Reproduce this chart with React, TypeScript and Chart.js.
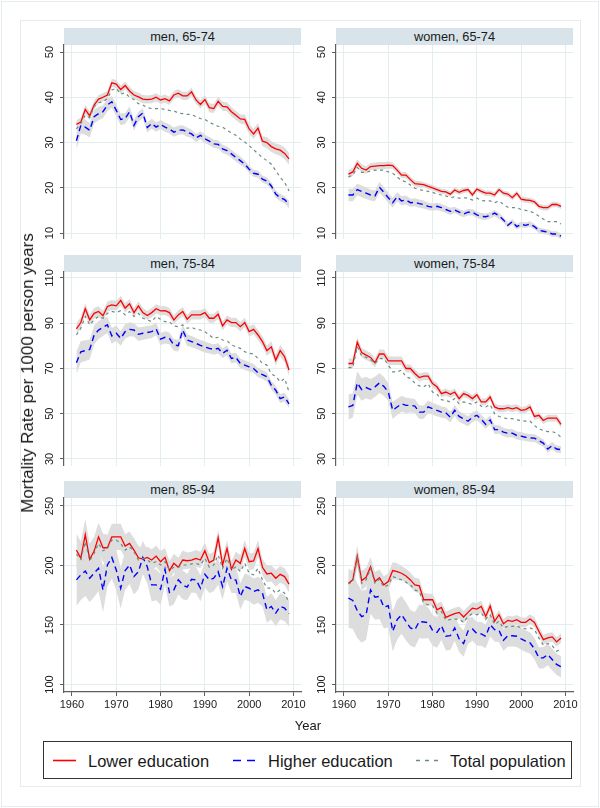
import React, { useEffect, useRef } from "react";
import { Chart, registerables } from "chart.js";

Chart.register(...registerables);

// ---------- data ----------
const years = [
  1961, 1962, 1963, 1964, 1965, 1966, 1967, 1968, 1969, 1970,
  1971, 1972, 1973, 1974, 1975, 1976, 1977, 1978, 1979, 1980,
  1981, 1982, 1983, 1984, 1985, 1986, 1987, 1988, 1989, 1990,
  1991, 1992, 1993, 1994, 1995, 1996, 1997, 1998, 1999, 2000,
  2001, 2002, 2003, 2004, 2005, 2006, 2007, 2008, 2009,
];
const xTicks = [1960, 1970, 1980, 1990, 2000, 2010];
const yTicks6574 = [10, 20, 30, 40, 50];
const yTicks7584 = [30, 50, 70, 90, 110];
const yTicks8594 = [100, 150, 200, 250];

const panelTitles = ["men, 65-74", "women, 65-74", "men, 75-84", "women, 75-84", "men, 85-94", "women, 85-94"];
const legendLabels = ["Lower education", "Higher education", "Total population"];
const yAxisTitle = "Mortality Rate per 1000 person years";
const xAxisTitle = "Year";

// men 65-74
const men6574Lower = [
  34.0, 34.5, 37.3, 35.9, 38.3, 39.6, 40.0, 40.5, 43.2, 42.9,
  41.7, 42.6, 41.4, 40.5, 40.1, 39.6, 39.5, 39.6, 40.0, 39.4,
  39.7, 39.2, 40.5, 40.9, 40.3, 40.3, 41.2, 39.4, 38.4, 39.5,
  37.7, 37.5, 39.1, 38.0, 37.9, 36.8, 36.0, 35.2, 35.1, 33.0,
  31.9, 33.2, 30.3, 30.0, 29.1, 28.6, 28.3, 27.6, 26.4,
];
const men6574Higher = [
  30.4, 33.8, 33.4, 32.7, 35.7, 36.4, 36.8, 38.3, 39.0, 37.1,
  35.1, 35.3, 36.8, 33.8, 35.7, 36.5, 33.3, 34.2, 33.4, 34.0,
  33.4, 33.0, 32.3, 32.7, 32.8, 32.3, 31.9, 31.0, 31.6, 30.8,
  30.3, 29.7, 29.6, 28.6, 28.2, 27.5, 26.7, 26.0, 25.2, 24.1,
  23.2, 23.0, 21.9, 21.5, 20.4, 18.6, 17.8, 17.4, 16.3,
];
const men6574Total = [
  33.0, 34.2, 36.0, 35.5, 38.0, 38.8, 39.0, 39.7, 41.6, 42.0,
  40.7, 41.0, 40.0, 39.5, 38.6, 38.3, 37.7, 37.5, 37.5, 37.5,
  37.3, 37.1, 37.0, 36.5, 36.4, 36.2, 36.2, 35.7, 35.3, 35.1,
  34.5, 34.0, 33.6, 33.4, 32.7, 32.1, 31.6, 30.8, 30.1, 29.3,
  28.4, 27.5, 26.7, 26.0, 25.2, 23.8, 22.3, 21.2, 19.3,
];
const men6574LowerCI = [
  1.0, 1.0, 1.0, 1.0, 1.0, 0.9, 0.9, 0.9, 0.9, 0.9,
  0.9, 0.9, 0.9, 0.9, 0.9, 0.9, 0.9, 0.9, 0.9, 0.9,
  0.9, 0.9, 0.9, 0.9, 0.9, 0.9, 0.9, 0.9, 0.9, 1.0,
  1.0, 1.0, 1.0, 1.0, 1.0, 1.0, 1.0, 1.0, 1.1, 1.1,
  1.1, 1.1, 1.1, 1.2, 1.2, 1.2, 1.2, 1.3, 1.3,
];
const men6574HigherCI = [
  2.0, 1.8, 1.7, 1.6, 1.5, 1.5, 1.4, 1.4, 1.3, 1.3,
  1.3, 1.2, 1.2, 1.2, 1.1, 1.1, 1.1, 1.1, 1.0, 1.0,
  1.0, 1.0, 1.0, 1.0, 1.0, 1.0, 0.9, 0.9, 0.9, 0.9,
  0.9, 0.9, 0.9, 0.9, 0.9, 0.9, 0.9, 0.9, 0.8, 0.8,
  0.8, 0.8, 0.8, 0.8, 0.8, 0.8, 0.8, 0.8, 0.8,
];

// women 65-74
const women6574Lower = [
  23.0, 23.5, 25.4, 24.3, 23.9, 24.7, 24.8, 24.9, 24.9, 25.0,
  24.9, 23.9, 22.8, 22.8, 21.8, 20.9, 20.8, 20.7, 20.3, 20.0,
  19.6, 19.2, 19.1, 18.6, 19.5, 19.0, 19.4, 19.6, 18.4, 19.7,
  19.2, 18.8, 18.8, 18.4, 19.6, 18.8, 18.6, 17.8, 18.8, 17.5,
  17.3, 17.2, 16.9, 15.9, 15.6, 15.6, 16.3, 16.3, 15.9,
];
const women6574Higher = [
  18.4, 18.4, 19.6, 19.2, 18.8, 18.4, 18.2, 20.1, 19.0, 17.8,
  16.7, 18.0, 17.1, 17.3, 16.7, 16.8, 16.5, 16.3, 15.9, 15.7,
  15.9, 15.6, 15.2, 14.8, 15.1, 14.6, 14.2, 14.6, 14.6, 14.0,
  13.7, 13.6, 13.9, 14.4, 13.8, 12.9, 11.7, 12.5, 11.4, 11.9,
  11.7, 12.0, 11.4, 10.6, 10.4, 10.2, 9.8, 9.8, 9.3,
];
const women6574Total = [
  22.4, 22.8, 24.5, 23.4, 23.4, 23.7, 23.9, 23.9, 23.9, 23.5,
  23.2, 22.4, 21.6, 21.3, 20.6, 19.9, 19.6, 19.4, 19.2, 19.0,
  18.6, 18.4, 18.2, 17.8, 18.0, 17.7, 17.8, 17.7, 17.3, 17.7,
  17.2, 17.1, 17.1, 16.7, 17.1, 16.3, 15.7, 15.6, 15.6, 15.2,
  15.0, 14.8, 14.4, 13.7, 13.1, 12.5, 12.5, 12.5, 12.0,
];
const women6574LowerCI = [
  0.9, 0.9, 0.9, 0.9, 0.8, 0.8, 0.8, 0.8, 0.8, 0.8,
  0.7, 0.7, 0.7, 0.7, 0.7, 0.7, 0.7, 0.6, 0.6, 0.6,
  0.6, 0.6, 0.6, 0.6, 0.6, 0.6, 0.6, 0.6, 0.6, 0.6,
  0.6, 0.6, 0.6, 0.6, 0.6, 0.6, 0.6, 0.6, 0.6, 0.6,
  0.6, 0.6, 0.6, 0.6, 0.6, 0.6, 0.6, 0.6, 0.6,
];
const women6574HigherCI = [
  1.4, 1.4, 1.3, 1.3, 1.3, 1.2, 1.2, 1.2, 1.1, 1.1,
  1.1, 1.0, 1.0, 1.0, 0.9, 0.9, 0.9, 0.9, 0.8, 0.8,
  0.8, 0.8, 0.8, 0.8, 0.7, 0.7, 0.7, 0.7, 0.7, 0.7,
  0.7, 0.7, 0.7, 0.7, 0.7, 0.6, 0.6, 0.6, 0.6, 0.6,
  0.6, 0.6, 0.6, 0.6, 0.6, 0.6, 0.6, 0.6, 0.6,
];

// men 75-84
const men7584Lower = [
  87.5, 90.3, 96.4, 91.5, 94.4, 95.2, 93.3, 97.4, 98.1, 97.7,
  100.1, 96.7, 98.6, 94.7, 97.7, 94.7, 93.4, 94.7, 96.4, 95.5,
  95.6, 94.7, 91.5, 93.7, 95.2, 91.8, 93.7, 93.7, 93.7, 94.7,
  92.2, 92.2, 94.0, 88.8, 91.5, 90.3, 90.3, 88.5, 90.3, 86.3,
  87.3, 84.8, 81.9, 77.9, 79.6, 73.7, 77.9, 75.2, 69.3,
];
const men7584Higher = [
  72.5, 77.4, 77.9, 78.4, 84.8, 87.0, 88.2, 89.3, 84.4, 85.6,
  83.3, 86.3, 87.3, 87.0, 85.1, 85.6, 85.9, 86.3, 87.5, 83.0,
  83.8, 83.3, 80.4, 80.1, 87.0, 82.6, 81.9, 81.1, 80.2, 79.5,
  78.9, 78.4, 78.9, 76.7, 78.1, 74.4, 74.9, 72.2, 71.5, 70.7,
  70.0, 68.1, 67.3, 66.3, 62.6, 60.4, 56.7, 57.4, 54.4,
];
const men7584Total = [
  84.8, 87.8, 93.0, 89.3, 91.5, 93.0, 92.2, 94.4, 95.2, 94.7,
  95.5, 93.7, 95.2, 93.0, 94.4, 92.2, 91.5, 90.7, 93.0, 91.8,
  90.7, 90.7, 88.8, 88.5, 89.3, 87.8, 88.2, 87.3, 87.0, 86.3,
  84.8, 83.3, 83.8, 82.6, 82.3, 80.4, 79.6, 78.9, 77.4, 76.7,
  76.4, 74.4, 72.2, 71.5, 67.5, 66.6, 64.1, 65.6, 59.6,
];
const men7584LowerCI = [
  2.5, 2.5, 2.4, 2.4, 2.3, 2.3, 2.2, 2.2, 2.2, 2.1,
  2.1, 2.1, 2.0, 2.0, 2.0, 2.0, 2.0, 2.0, 2.0, 2.0,
  2.0, 2.0, 2.0, 2.0, 2.0, 2.0, 2.0, 2.0, 2.0, 2.0,
  2.0, 2.0, 2.0, 2.0, 2.0, 2.0, 2.1, 2.1, 2.1, 2.2,
  2.2, 2.2, 2.3, 2.3, 2.4, 2.4, 2.5, 2.5, 2.6,
];
const men7584HigherCI = [
  5.0, 4.8, 4.6, 4.4, 4.2, 4.0, 3.8, 3.6, 3.5, 3.4,
  3.3, 3.2, 3.1, 3.0, 3.0, 2.9, 2.9, 2.8, 2.8, 2.7,
  2.7, 2.6, 2.6, 2.6, 2.5, 2.5, 2.5, 2.4, 2.4, 2.4,
  2.3, 2.3, 2.3, 2.2, 2.2, 2.2, 2.1, 2.1, 2.1, 2.0,
  2.0, 2.0, 2.0, 2.0, 2.0, 2.0, 2.0, 2.0, 2.0,
];

// women 75-84
const women7584Lower = [
  72.2, 72.2, 81.6, 77.0, 75.9, 74.9, 72.5, 76.4, 76.4, 73.4,
  73.4, 73.4, 73.4, 70.0, 70.0, 67.8, 66.0, 66.6, 66.6, 63.3,
  61.9, 58.9, 59.6, 58.6, 59.6, 56.7, 58.9, 58.1, 56.7, 58.4,
  55.2, 55.2, 57.4, 53.0, 52.2, 52.2, 52.7, 52.2, 52.7, 51.5,
  51.8, 53.0, 48.8, 49.3, 47.0, 48.1, 48.1, 48.1, 45.3,
];
const women7584Higher = [
  53.0, 53.7, 63.6, 60.7, 61.6, 60.7, 61.9, 63.6, 62.1, 59.6,
  51.5, 53.0, 54.4, 53.7, 53.7, 53.4, 50.7, 50.7, 53.0, 52.2,
  51.5, 50.7, 50.4, 48.5, 51.5, 48.8, 47.8, 46.7, 48.5, 49.3,
  47.5, 45.3, 47.3, 43.0, 43.0, 41.9, 41.4, 41.4, 40.4, 40.1,
  39.6, 39.3, 39.2, 38.1, 37.0, 34.4, 35.9, 34.4, 34.1,
];
const women7584Total = [
  70.4, 70.4, 79.6, 75.5, 74.9, 74.0, 72.2, 74.4, 74.4, 71.5,
  68.5, 68.5, 69.3, 66.3, 65.6, 63.6, 62.3, 61.9, 63.3, 59.6,
  58.6, 56.2, 55.9, 55.2, 56.7, 54.4, 55.2, 54.7, 54.1, 55.2,
  53.3, 53.0, 54.1, 50.0, 48.8, 48.2, 47.8, 47.8, 47.3, 47.0,
  46.7, 46.7, 44.8, 43.3, 42.6, 42.1, 42.1, 41.4, 39.6,
];
const women7584LowerCI = [
  2.2, 2.2, 2.2, 2.1, 2.1, 2.1, 2.0, 2.0, 2.0, 2.0,
  1.9, 1.9, 1.9, 1.8, 1.8, 1.8, 1.8, 1.7, 1.7, 1.7,
  1.7, 1.6, 1.6, 1.6, 1.6, 1.6, 1.5, 1.5, 1.5, 1.5,
  1.5, 1.5, 1.5, 1.5, 1.5, 1.5, 1.5, 1.5, 1.5, 1.5,
  1.5, 1.5, 1.5, 1.5, 1.5, 1.5, 1.5, 1.5, 1.5,
];
const women7584HigherCI = [
  5.5, 5.4, 5.2, 5.0, 4.8, 4.6, 4.5, 4.4, 4.2, 4.0,
  3.8, 3.6, 3.5, 3.4, 3.2, 3.1, 3.0, 2.9, 2.8, 2.7,
  2.6, 2.5, 2.5, 2.4, 2.4, 2.3, 2.3, 2.2, 2.2, 2.1,
  2.1, 2.0, 2.0, 2.0, 1.9, 1.9, 1.9, 1.8, 1.8, 1.8,
  1.7, 1.7, 1.7, 1.7, 1.6, 1.6, 1.6, 1.6, 1.6,
];

// men 85-94
const men8594Lower = [
  212.9, 206.0, 226.0, 205.2, 212.1, 224.1, 214.9, 214.9, 224.1, 224.1,
  224.1, 216.3, 218.5, 212.9, 206.5, 205.4, 206.8, 204.6, 207.9, 203.2,
  206.8, 195.7, 201.8, 198.5, 204.6, 204.0, 204.6, 206.0, 204.6, 212.4,
  202.4, 204.6, 223.3, 200.4, 214.3, 196.8, 204.6, 201.8, 214.3, 203.2,
  203.8, 214.3, 198.5, 192.9, 193.5, 189.3, 192.6, 190.7, 184.3,
];
const men8594Higher = [
  187.9, 192.1, 195.4, 189.3, 193.5, 197.6, 179.5, 200.4, 206.8, 196.2,
  180.9, 195.7, 200.4, 190.7, 194.8, 206.8, 199.0, 183.7, 183.7, 180.1,
  196.8, 177.3, 179.5, 187.9, 183.7, 181.8, 188.4, 187.9, 180.9, 192.6,
  187.9, 189.3, 194.8, 182.3, 197.6, 187.9, 187.9, 174.0, 182.3, 180.9,
  178.1, 179.5, 176.7, 162.8, 165.6, 160.0, 165.6, 164.2, 159.5,
];
const men8594Total = [
  209.6, 205.2, 219.9, 204.0, 210.2, 218.5, 212.4, 214.3, 221.3, 221.3,
  218.5, 212.9, 215.7, 211.6, 204.6, 206.0, 204.6, 201.8, 203.2, 200.4,
  203.2, 196.2, 198.5, 198.5, 200.4, 200.4, 201.3, 201.8, 200.4, 206.0,
  198.5, 200.4, 208.8, 197.6, 206.0, 196.2, 199.0, 194.8, 201.8, 193.5,
  192.1, 197.6, 187.9, 180.9, 180.9, 176.7, 179.5, 176.7, 168.9,
];
const men8594LowerCI = [
  14, 14, 13, 13, 12, 12, 12, 11, 11, 11,
  11, 10, 10, 10, 10, 9, 9, 9, 9, 9,
  8, 8, 8, 8, 8, 7, 7, 7, 7, 7,
  7, 7, 7, 7, 7, 7, 7, 7, 7, 7,
  7, 7, 7, 7, 7, 7, 7, 7, 7,
];
const men8594HigherCI = [
  22, 21, 21, 20, 20, 19, 19, 18, 18, 17,
  17, 16, 16, 15, 15, 14, 14, 14, 13, 13,
  13, 12, 12, 12, 12, 11, 11, 11, 11, 11,
  11, 11, 11, 11, 11, 11, 11, 11, 11, 11,
  11, 11, 11, 11, 11, 11, 11, 11, 11,
];

// women 85-94
const women8594Lower = [
  185.1, 187.9, 207.9, 187.3, 190.1, 199.0, 186.5, 189.8, 183.7, 186.5,
  195.7, 194.8, 193.5, 191.2, 187.9, 183.7, 182.9, 171.2, 171.2, 171.2,
  162.8, 164.8, 156.4, 158.1, 159.5, 160.6, 156.7, 160.6, 164.2, 163.4,
  165.6, 157.2, 166.0, 153.1, 158.6, 151.1, 153.9, 153.1, 154.5, 152.2,
  152.2, 155.0, 152.2, 144.7, 137.7, 139.1, 140.0, 135.8, 139.1,
];
const women8594Higher = [
  172.6, 170.6, 162.0, 157.0, 158.6, 179.5, 173.4, 174.0, 165.0, 166.2,
  144.7, 154.5, 158.6, 153.0, 147.5, 146.0, 153.0, 152.5, 152.0, 145.5,
  143.8, 149.4, 140.5, 141.0, 147.5, 138.3, 134.4, 145.0, 146.7, 142.8,
  142.5, 140.5, 150.3, 146.1, 145.5, 137.2, 141.0, 141.0, 140.5, 138.3,
  136.4, 135.0, 130.0, 122.4, 122.4, 125.2, 121.0, 116.9, 114.9,
];
const women8594Total = [
  184.5, 186.5, 206.0, 185.1, 187.9, 197.6, 185.1, 188.4, 181.8, 183.7,
  190.7, 189.3, 187.9, 185.9, 183.7, 179.5, 178.1, 168.4, 167.0, 166.2,
  160.0, 161.4, 153.9, 154.5, 155.0, 155.0, 152.2, 157.2, 159.5, 158.6,
  160.0, 155.0, 158.6, 150.3, 153.1, 147.5, 148.9, 148.9, 149.4, 147.5,
  146.7, 147.5, 146.1, 139.1, 133.0, 134.4, 132.7, 128.0, 129.4,
];
const women8594LowerCI = [
  9, 9, 9, 8, 8, 8, 8, 7, 7, 7,
  7, 7, 6, 6, 6, 6, 6, 6, 5, 5,
  5, 5, 5, 5, 5, 5, 5, 5, 5, 5,
  5, 4, 4, 4, 4, 4, 4, 4, 4, 4,
  4, 4, 4, 4, 4, 4, 4, 4, 4,
];
const women8594HigherCI = [
  25, 24, 23, 22, 21, 20, 19, 19, 18, 18,
  17, 17, 16, 16, 15, 15, 14, 14, 13, 13,
  13, 12, 12, 12, 11, 11, 11, 11, 10, 10,
  10, 10, 10, 10, 10, 9, 9, 9, 9, 9,
  9, 9, 9, 9, 9, 9, 9, 9, 9,
];

// ---------- styles ----------
const FONT = '"Liberation Sans", Arial, Helvetica, sans-serif';
const RED = "#FF0000";
const BLUE = "#0000FF";
const TOTAL = "#6B8B81";
const BAND = "#DDDDDD";
const GRID = "#E3ECEF";
const AXIS = "#5E5E5E";
const STRIP = "#D8E4EA";
const FRAME = "#E4ECEE";
const TEXT = "#1A1A1A";

const PLOT_W = 237;
const PLOT_H = 194;
const Y_AXIS_W = 36;
const PAD_TOP = 10;
const PAD_RIGHT = 10;
const X_AXIS_H = 24;

const yTickLabels = {
  id: "yTickLabels",
  afterDraw(chart: any) {
    const s = chart.scales.y;
    const ctx = chart.ctx;
    ctx.save();
    ctx.fillStyle = TEXT;
    ctx.font = `11px ${FONT}`;
    ctx.textAlign = "center";
    ctx.textBaseline = "middle";
    for (const t of s.ticks) {
      const y = s.getPixelForValue(t.value);
      ctx.save();
      ctx.translate(s.right - 14.5, y);
      ctx.rotate(-Math.PI / 2);
      ctx.fillText(String(t.value), 0, 0);
      ctx.restore();
    }
    ctx.restore();
  },
};

type PanelProps = {
  title: string;
  axisX: number;
  plotTop: number;
  bottom: boolean;
  yMin: number;
  yMax: number;
  yTicks: number[];
  lower: number[];
  higher: number[];
  total: number[];
  lowerCI: number[];
  higherCI: number[];
};

function Panel(p: PanelProps) {
  const ref = useRef<HTMLCanvasElement>(null);
  const canvasW = Y_AXIS_W + PLOT_W + PAD_RIGHT;
  const canvasH = PAD_TOP + PLOT_H + (p.bottom ? X_AXIS_H : 0);

  useEffect(() => {
    if (!ref.current) return;
    const pts = (arr: number[]) => years.map((x, i) => ({ x, y: arr[i] }));
    const edge = (arr: number[], ci: number[], s: number) =>
      years.map((x, i) => ({ x, y: arr[i] + s * ci[i] }));
    const base = { pointRadius: 0, pointHoverRadius: 0, tension: 0 };
    const clear = "rgba(0,0,0,0)";
    const chart = new Chart(ref.current, {
      type: "line",
      data: {
        datasets: [
          { ...base, label: legendLabels[2], data: pts(p.total), borderColor: TOTAL, borderWidth: 1.2, borderDash: [3, 3.5], fill: false },
          { ...base, label: legendLabels[1], data: pts(p.higher), borderColor: BLUE, borderWidth: 1.4, borderDash: [6, 4], fill: false },
          { ...base, label: legendLabels[0], data: pts(p.lower), borderColor: RED, borderWidth: 1.3, fill: false },
          { ...base, data: edge(p.higher, p.higherCI, 1), borderColor: clear, borderWidth: 0, backgroundColor: BAND, fill: "+1" },
          { ...base, data: edge(p.higher, p.higherCI, -1), borderColor: clear, borderWidth: 0, fill: false },
          { ...base, data: edge(p.lower, p.lowerCI, 1), borderColor: clear, borderWidth: 0, backgroundColor: BAND, fill: "+1" },
          { ...base, data: edge(p.lower, p.lowerCI, -1), borderColor: clear, borderWidth: 0, fill: false },
        ] as any,
      },
      options: {
        responsive: false,
        animation: false,
        events: [],
        layout: { padding: { top: PAD_TOP, right: PAD_RIGHT, bottom: 0, left: 0 } },
        plugins: {
          legend: { display: false },
          tooltip: { enabled: false },
          filler: { drawTime: "beforeDatasetsDraw" },
        } as any,
        scales: {
          x: {
            type: "linear",
            min: 1958.2,
            max: 2011.7,
            afterBuildTicks: (s: any) => {
              s.ticks = xTicks.map((v) => ({ value: v }));
            },
            afterFit: (s: any) => {
              s.height = p.bottom ? X_AXIS_H : 0;
              s.paddingLeft = 0;
              s.paddingRight = 0;
            },
            ticks: {
              display: p.bottom,
              font: { size: 11, family: FONT },
              color: TEXT,
              padding: 2,
              maxRotation: 0,
              autoSkip: false,
              callback: (v: any) => String(v),
            },
            grid: { color: GRID, tickColor: AXIS, tickLength: 4, drawTicks: p.bottom, lineWidth: 1 },
            border: { display: p.bottom, color: AXIS, width: 1.2 },
          },
          y: {
            type: "linear",
            min: p.yMin,
            max: p.yMax,
            afterBuildTicks: (s: any) => {
              s.ticks = p.yTicks.map((v) => ({ value: v }));
            },
            afterFit: (s: any) => {
              s.width = Y_AXIS_W;
              s.paddingTop = 0;
              s.paddingBottom = 0;
            },
            ticks: { display: false },
            grid: { color: GRID, tickColor: AXIS, tickLength: 4, lineWidth: 1 },
            border: { color: AXIS, width: 1.2 },
          },
        } as any,
      },
      plugins: [yTickLabels],
    });
    return () => chart.destroy();
  }, []);

  return (
    <>
      <div
        style={{
          position: "absolute",
          left: p.axisX,
          top: p.plotTop - 17,
          width: PLOT_W,
          height: 17,
          background: STRIP,
          color: TEXT,
          fontSize: 12.8,
          fontWeight: 400,
          lineHeight: "17px",
          textAlign: "center",
          whiteSpace: "nowrap",
        }}
      >
        {p.title}
      </div>
      <canvas
        ref={ref}
        width={canvasW}
        height={canvasH}
        style={{
          position: "absolute",
          left: p.axisX - Y_AXIS_W,
          top: p.plotTop - PAD_TOP,
          width: canvasW,
          height: canvasH,
        }}
      />
    </>
  );
}

const COLS = [64, 336];
const ROWS = [45, 272, 498];

export default function App() {
  const panels: PanelProps[] = [
    { title: panelTitles[0], axisX: COLS[0], plotTop: ROWS[0], bottom: false, yMin: 8.68, yMax: 51.55, yTicks: yTicks6574, lower: men6574Lower, higher: men6574Higher, total: men6574Total, lowerCI: men6574LowerCI, higherCI: men6574HigherCI },
    { title: panelTitles[1], axisX: COLS[1], plotTop: ROWS[0], bottom: false, yMin: 8.68, yMax: 51.55, yTicks: yTicks6574, lower: women6574Lower, higher: women6574Higher, total: women6574Total, lowerCI: women6574LowerCI, higherCI: women6574HigherCI },
    { title: panelTitles[2], axisX: COLS[0], plotTop: ROWS[1], bottom: false, yMin: 26.9, yMax: 112.65, yTicks: yTicks7584, lower: men7584Lower, higher: men7584Higher, total: men7584Total, lowerCI: men7584LowerCI, higherCI: men7584HigherCI },
    { title: panelTitles[3], axisX: COLS[1], plotTop: ROWS[1], bottom: false, yMin: 26.9, yMax: 112.65, yTicks: yTicks7584, lower: women7584Lower, higher: women7584Higher, total: women7584Total, lowerCI: women7584LowerCI, higherCI: women7584HigherCI },
    { title: panelTitles[4], axisX: COLS[0], plotTop: ROWS[2], bottom: true, yMin: 93.69, yMax: 256.72, yTicks: yTicks8594, lower: men8594Lower, higher: men8594Higher, total: men8594Total, lowerCI: men8594LowerCI, higherCI: men8594HigherCI },
    { title: panelTitles[5], axisX: COLS[1], plotTop: ROWS[2], bottom: true, yMin: 93.69, yMax: 256.72, yTicks: yTicks8594, lower: women8594Lower, higher: women8594Higher, total: women8594Total, lowerCI: women8594LowerCI, higherCI: women8594HigherCI },
  ];

  const legendText: React.CSSProperties = {
    position: "absolute",
    top: 0,
    height: 38,
    lineHeight: "38px",
    fontSize: 16.5,
    color: TEXT,
    whiteSpace: "nowrap",
  };

  return (
    <div
      style={{
        position: "absolute",
        left: 0,
        top: 0,
        width: 600,
        height: 808,
        background: "#FFFFFF",
        fontFamily: FONT,
        overflow: "hidden",
      }}
    >
      <div style={{ position: "absolute", left: 1, top: 1, width: 596, height: 804, border: `1px solid ${FRAME}` }} />
      <div style={{ position: "absolute", left: 20, top: 20, width: 559, height: 765, border: `1px solid ${FRAME}` }} />

      {panels.map((p, i) => (
        <Panel key={i} {...p} />
      ))}

      <div
        style={{
          position: "absolute",
          left: 28,
          top: 373,
          transform: "translate(-50%, -50%) rotate(-90deg)",
          fontSize: 17,
          color: TEXT,
          whiteSpace: "nowrap",
        }}
      >
        {yAxisTitle}
      </div>

      <div
        style={{
          position: "absolute",
          left: 308,
          top: 725,
          transform: "translate(-50%, -50%)",
          fontSize: 13,
          color: TEXT,
          whiteSpace: "nowrap",
        }}
      >
        {xAxisTitle}
      </div>

      <div
        style={{
          position: "absolute",
          left: 43,
          top: 741,
          width: 527,
          height: 36,
          border: "1.3px solid #333333",
        }}
      >
        <svg style={{ position: "absolute", left: 0, top: 0 }} width={527} height={36}>
          <line x1={9} y1={18.5} x2={32} y2={18.5} stroke={RED} strokeWidth={1.6} />
          <line x1={189} y1={18.5} x2={212} y2={18.5} stroke={BLUE} strokeWidth={1.6} strokeDasharray="8 6" />
          <line x1={372} y1={18.5} x2={396} y2={18.5} stroke={TOTAL} strokeWidth={1.4} strokeDasharray="4 5" />
        </svg>
        <div style={{ ...legendText, left: 44 }}>{legendLabels[0]}</div>
        <div style={{ ...legendText, left: 224 }}>{legendLabels[1]}</div>
        <div style={{ ...legendText, left: 406 }}>{legendLabels[2]}</div>
      </div>
    </div>
  );
}
